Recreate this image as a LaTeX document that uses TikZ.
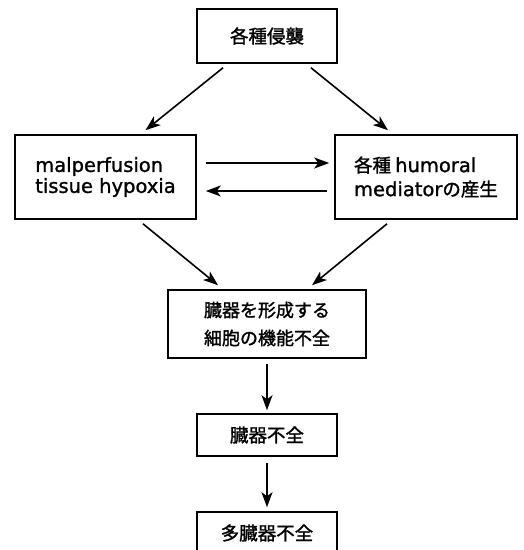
\documentclass[tikz,border=0pt]{standalone}
\usepackage{fontspec}
\newfontfamily\jpf[FakeBold=1.5]{Noto Sans CJK JP}
\newfontfamily\latf[FakeBold=1.2]{DejaVu Sans}
\usetikzlibrary{arrows.meta}
\newcommand{\latword}[1]{{\latf\fontsize{19.5}{22}\selectfont #1}}
\begin{document}
\begin{tikzpicture}[x=1pt,y=-1pt,
  box/.style={draw,line width=1.6pt,rectangle,inner sep=0pt},
  arr/.style={line width=1.6pt,-{Stealth[length=15pt,width=11pt,inset=4pt]}},
  jp/.style={font=\jpf\fontsize{18.5}{22}\selectfont}]
\useasboundingbox (0,0) rectangle (524,550);
\clip (0,0) rectangle (524,550);
\node[box,jp,minimum width=140pt,minimum height=54pt] (top) at (267,36) {各種侵襲};
\node[box,minimum width=181pt,minimum height=84pt,align=left,font=\latf\fontsize{19.5}{21}\selectfont] (left) at (105.5,177)
  {malperfusion\\tissue hypoxia};
\node[box,minimum width=182pt,minimum height=84pt,align=left,font=\jpf\fontsize{18.5}{24}\selectfont] (right) at (426,177)
  {各種 \latword{humoral}\\\latword{mediator}の産生};
\node[box,minimum width=198pt,minimum height=68pt,align=center,font=\jpf\fontsize{18}{28}\selectfont] (mid) at (267,324)
  {臓器を形成する\\細胞の機能不全};
\node[box,jp,minimum width=140pt,minimum height=42pt] (organ) at (267,435) {臓器不全};
\node[box,jp,minimum width=140pt,minimum height=42pt] (multi) at (267,533) {多臓器不全};
\draw[arr] ([xshift=-44pt,yshift=-4pt]top.south) -- ([xshift=40pt,yshift=4pt]left.north);
\draw[arr] ([xshift=44pt,yshift=-4pt]top.south) -- ([xshift=-38pt,yshift=4pt]right.north);
\draw[arr] ([xshift=9pt,yshift=14pt]left.east) -- ([xshift=-5pt,yshift=14pt]right.west);
\draw[arr] ([xshift=-7pt,yshift=-14pt]right.west) -- ([xshift=9pt,yshift=-14pt]left.east);
\draw[arr] ([xshift=37.5pt,yshift=-4pt]left.south) -- ([xshift=-49pt,yshift=4pt]mid.north);
\draw[arr] ([xshift=-39pt,yshift=-4pt]right.south) -- ([xshift=45pt,yshift=4pt]mid.north);
\draw[arr] ([yshift=-5pt]mid.south) -- ([yshift=3pt]organ.north);
\draw[arr] ([yshift=-6pt]organ.south) -- ([yshift=4pt]multi.north);
\end{tikzpicture}
\end{document}
